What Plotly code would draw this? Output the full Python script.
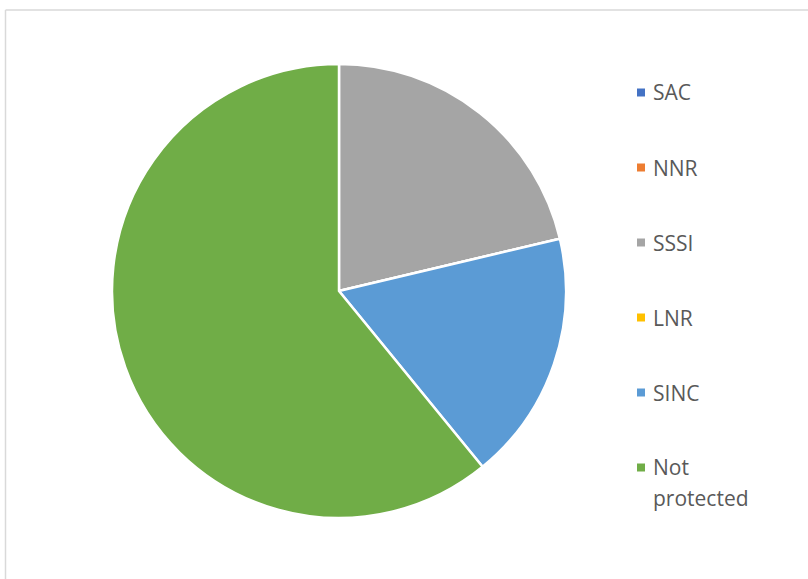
import plotly.graph_objects as go

labels = ["SAC", "NNR", "SSSI", "LNR", "SINC", "Not protected"]
values = [0, 0, 21.3, 0, 17.8, 60.9]
colors = ["#4472C4", "#ED7D31", "#A5A5A5", "#FFC000", "#5B9BD5", "#70AD47"]

W, H = 808, 579


def px(x):
    return x / W


def py(y):
    return 1 - y / H


fig = go.Figure(
    go.Pie(
        labels=labels,
        values=values,
        marker=dict(colors=colors, line=dict(color="white", width=2.5)),
        sort=False,
        direction="clockwise",
        rotation=0,
        textinfo="none",
        hoverinfo="label+value",
        showlegend=False,
        domain=dict(x=[px(112), px(566)], y=[py(518), py(64)]),
    )
)

# chart-area frame (only left and top edges are visible in the crop)
shapes = [
    dict(type="line", xref="paper", yref="paper", x0=px(5.5), x1=px(5.5), y0=-0.01, y1=py(10),
         line=dict(color="#D9D9D9", width=1.5)),
    dict(type="line", xref="paper", yref="paper", x0=px(5.5), x1=1.01, y0=py(10), y1=py(10),
         line=dict(color="#D9D9D9", width=1.5)),
]
# legend drawn by hand so the item spacing matches the original
annotations = []
for i, (lab, col) in enumerate(zip(labels, colors)):
    yc = 92.5 + 75 * i
    shapes.append(dict(type="rect", xref="paper", yref="paper",
                       x0=px(637), x1=px(645), y0=py(yc - 4), y1=py(yc + 4),
                       fillcolor=col, line=dict(width=0)))
    for j, part in enumerate(lab.split(" ")):
        annotations.append(dict(text=part, xref="paper", yref="paper",
                                x=px(651), y=py(yc + 30 * j), xanchor="left", yanchor="middle",
                                showarrow=False, font=dict(size=21, color="#595959")))

fig.update_layout(
    width=W,
    height=H,
    margin=dict(l=0, r=0, t=0, b=0),
    paper_bgcolor="white",
    font=dict(family="Open Sans, Liberation Sans, sans-serif"),
    shapes=shapes,
    annotations=annotations,
)

fig.write_html("out.html", config={"displayModeBar": False},
               post_script="document.body.style.margin='0px';")
